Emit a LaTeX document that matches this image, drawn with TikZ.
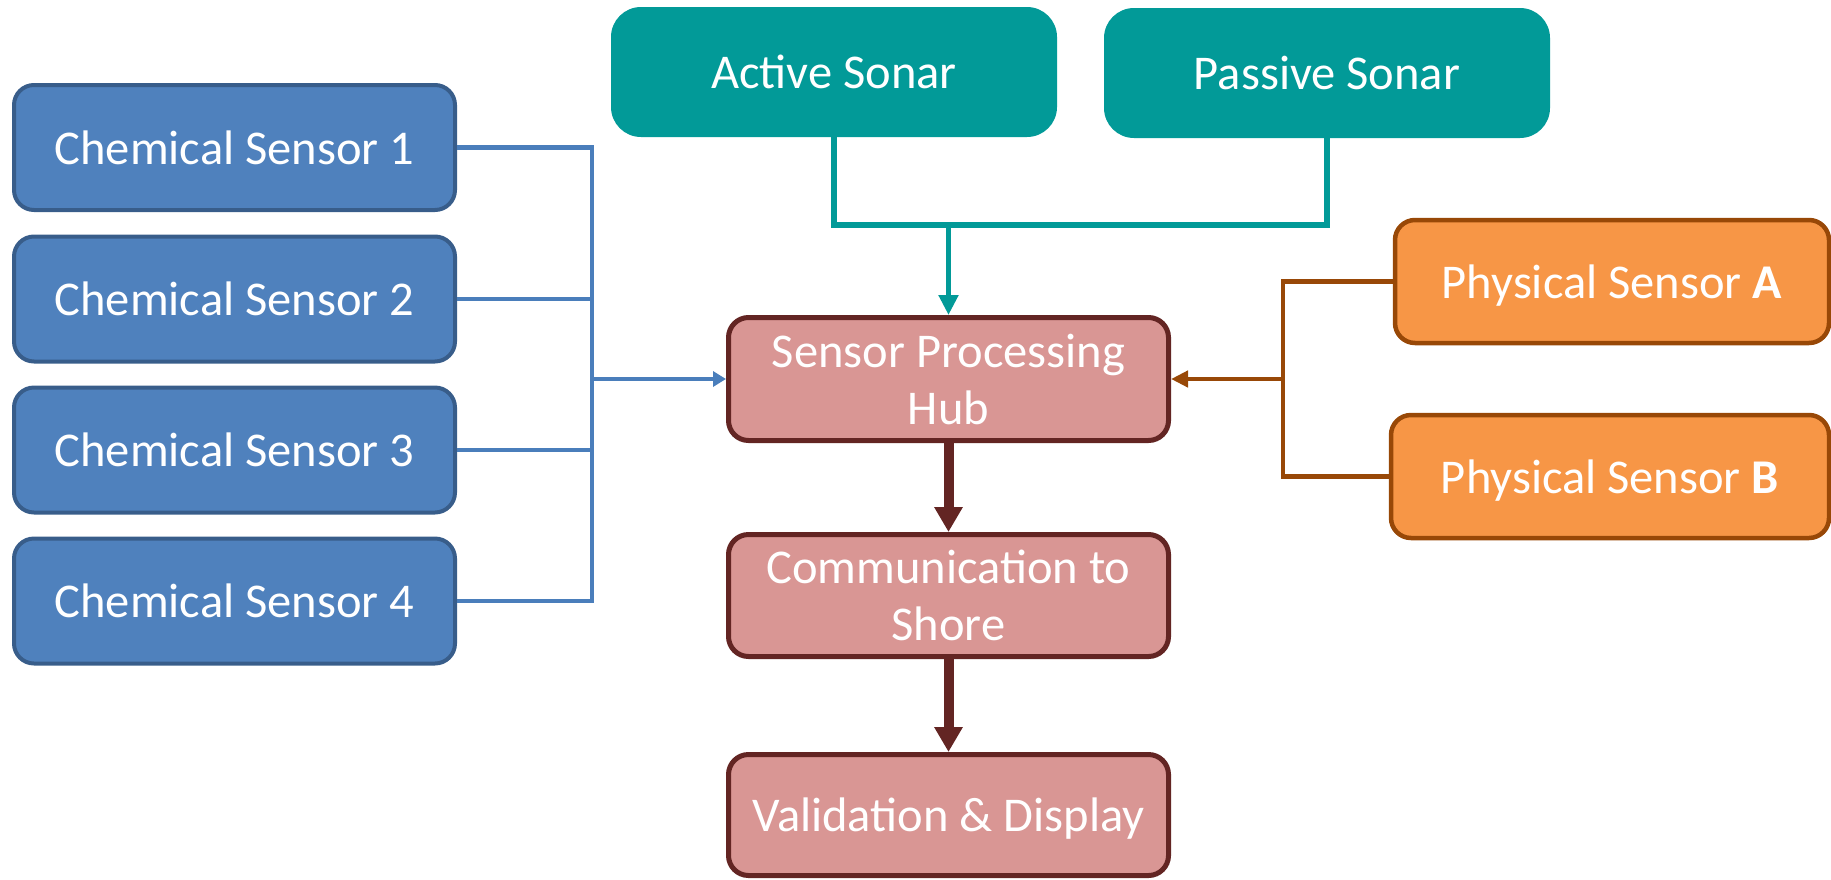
\documentclass[tikz,border=0pt]{standalone}
\usepackage{fontspec}
\setmainfont{Carlito}
\usetikzlibrary{arrows.meta}
\definecolor{chemfill}{HTML}{4F81BD}
\definecolor{chemline}{HTML}{385D8A}
\definecolor{chemwire}{HTML}{4A7EBB}
\definecolor{sonar}{HTML}{029A98}
\definecolor{hubfill}{HTML}{D99694}
\definecolor{hubline}{HTML}{632523}
\definecolor{physfill}{HTML}{F79646}
\definecolor{physline}{HTML}{984807}

\begin{document}
\begin{tikzpicture}[x=1pt,y=-1pt,
  box/.style={align=center, text=white, inner sep=0pt,
    font=\fontsize{48.5}{57}\selectfont},
  chem/.style={box, rounded corners=20pt, fill=chemfill, draw=chemline,
    line width=4pt, minimum width=441pt, minimum height=125pt},
  sonarbox/.style={box, rounded corners=30pt, fill=sonar,
    minimum width=446pt, minimum height=130pt},
  hubbox/.style={box, rounded corners=20pt, fill=hubfill, draw=hubline,
    line width=5pt, minimum width=440pt, minimum height=123pt},
  physbox/.style={box, rounded corners=20pt, fill=physfill, draw=physline,
    line width=4.5pt, minimum height=123pt, text depth=0pt},
  chemwire/.style={draw=chemwire, line width=4.5pt},
  sonarwire/.style={draw=sonar, line width=5.5pt},
  physwire/.style={draw=physline, line width=4.5pt},
  flow/.style={draw=hubline, line width=10pt,
    -{Triangle[length=25pt,width=27pt]}}
]
\useasboundingbox (0,0) rectangle (1831,879);

% chemical sensors on the left
\node[chem] (cs1) at (234.5,147.5) {Chemical Sensor 1};
\node[chem] (cs2) at (234.5,299) {Chemical Sensor 2};
\node[chem] (cs3) at (234.5,450) {Chemical Sensor 3};
\node[chem] (cs4) at (234.5,601) {Chemical Sensor 4};

% sonar units on top
\node[sonarbox] (act) at (834,72) {Active Sonar};
\node[sonarbox] (pas) at (1327,73) {Passive Sonar};

% processing chain in the middle
\node[hubbox] (hub) at (948.5,379) {Sensor Processing\\Hub};
\node[hubbox, minimum height=122pt] (comm) at (948.5,595.5) {Communication to\\Shore};
\node[hubbox, minimum height=121pt, text depth=0pt] (val) at (948.5,815) {Validation \& Display};

% physical sensors on the right
\node[physbox, minimum width=434pt] (pa) at (1612,281.5) {Physical Sensor \textbf{A}};
\node[physbox, minimum width=438pt] (pb) at (1610,476.5) {Physical Sensor \textbf{B}};

% junction points of the collecting wires
\coordinate (cbus) at (592,379);
\coordinate (tj) at (948.5,225);
\coordinate (oj) at (1283,379);

% chemical sensor bus
\draw[chemwire] (cs1.east) -| (cbus);
\draw[chemwire] (cs2.east) -| (cbus);
\draw[chemwire] (cs3.east) -| (cbus);
\draw[chemwire] (cs4.east) -| (cbus);
\draw[chemwire, -{Triangle[length=13pt,width=15pt]}] (cbus) -- (hub.west);

% sonar wires
\draw[sonarwire] (act.south) |- (tj);
\draw[sonarwire] (pas.south) |- (tj);
\draw[sonarwire, -{Triangle[length=20pt,width=19pt]}] (tj) -- (hub.north);

% physical sensor wires
\draw[physwire] (pa.west) -| (oj);
\draw[physwire] (pb.west) -| (oj);
\draw[physwire, -{Triangle[length=17pt,width=16pt]}] (oj) -- (hub.east);

% processing chain arrows
\draw[flow] (hub.south) -- (comm.north);
\draw[flow] (comm.south) -- (val.north);
\end{tikzpicture}
\end{document}
